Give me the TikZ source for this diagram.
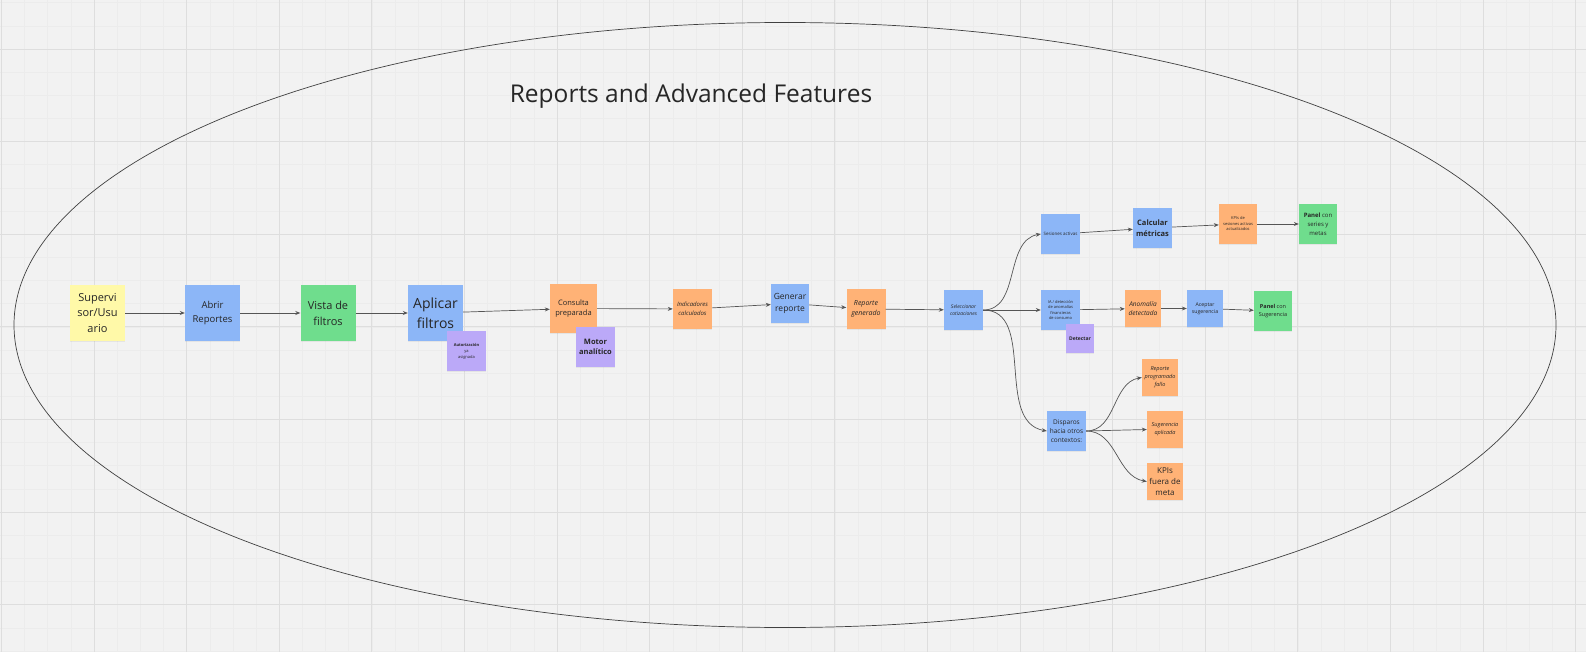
\documentclass[tikz,border=0pt]{standalone}
\usepackage{fontspec}
\setmainfont{Open Sans}
\usetikzlibrary{arrows.meta,positioning,shadows}

\definecolor{paper}{HTML}{F2F2F2}
\definecolor{gridmin}{HTML}{ECECEC}
\definecolor{gridmaj}{HTML}{DEDEDE}
\definecolor{noteyellow}{HTML}{FFF9A8}
\definecolor{noteblue}{HTML}{8CB6F7}
\definecolor{notegreen}{HTML}{6FDD8D}
\definecolor{noteorange}{HTML}{FFB276}
\definecolor{notepurple}{HTML}{BBA9F8}
\definecolor{inkline}{HTML}{555555}

\newcommand{\nfont}[2]{\fontsize{#1}{#2}\selectfont}

\begin{document}
\begin{tikzpicture}[
        x=1pt, y=-1pt,
        sticky/.style={
            rectangle, inner sep=1pt, align=center, text=black!85,
            drop shadow={shadow xshift=0pt, shadow yshift=-1.3pt, opacity=0.12}
        },
        big/.style={sticky, minimum width=55pt, minimum height=56pt},
        mid/.style={sticky, minimum width=39pt, minimum height=40pt},
        small/.style={sticky, minimum width=36pt, minimum height=37pt},
        yel/.style={fill=noteyellow},
        blu/.style={fill=noteblue},
        grn/.style={fill=notegreen},
        org/.style={fill=noteorange},
        pur/.style={fill=notepurple},
        arr/.style={-{Stealth[length=5pt,width=4pt]}, line width=0.7pt, draw=inkline}
    ]
    % Board
    \useasboundingbox (0,0) rectangle (1586,652);
    \fill[paper] (0,0) rectangle (1586,652);
    \foreach \i in {0,...,68}
        \draw[gridmin, line width=0.5pt] ({1.4+23.15*\i},0) -- ++(0,652);
    \foreach \j in {0,...,28}
        \draw[gridmin, line width=0.5pt] (0,{2.7+23.15*\j}) -- ++(1586,0);
    \foreach \i in {0,...,17}
        \draw[gridmaj, line width=0.8pt] ({1.4+92.6*\i},0) -- ++(0,652);
    \foreach \j in {0,...,6}
        \draw[gridmaj, line width=0.8pt] (0,{49+92.6*\j}) -- ++(1586,0);

    % Frame and title
    \draw[black!75, line width=0.7pt] (785,325) ellipse [x radius=771, y radius=302.5];
    \node[font=\nfont{24.5}{30}, text=black!85] (title) at (691,96) {Reports and Advanced Features};

    % Main row
    \node[big, yel, font=\nfont{11}{15.5}] (user) at (97.5,313) {Supervi\\sor/Usu\\ario};
    \node[big, blu, font=\nfont{9.5}{14.3}] (abrir) at (212.5,313) {Abrir\\Reportes};
    \node[big, grn, font=\nfont{11}{16}] (vista) at (328,313) {Vista de\\filtros};
    \node[big, blu, font=\nfont{14}{19.5}] (aplicar) at (435.5,313) {Aplicar\\filtros};
    \node[sticky, org, minimum width=47pt, minimum height=49pt, font=\nfont{7.5}{10.3}] (consulta) at (573.5,308.5) {Consulta\\preparada};
    \node[mid, org, font=\nfont{6}{8.7}\itshape] (indic) at (692.5,309) {Indicadores\\calculados};
    \node[sticky, blu, minimum width=38pt, minimum height=39pt, font=\nfont{8.5}{11.7}] (generar) at (790,303.5) {Generar\\reporte};
    \node[mid, org, font=\nfont{7}{10}\itshape] (repgen) at (866,309) {Reporte\\generado};
    \node[mid, blu, font=\nfont{5}{7}\itshape] (selec) at (963.5,310) {Seleccionar\\cotizaciones};

    % Upper branch
    \node[mid, blu, font=\nfont{4.5}{6}] (sesiones) at (1060.5,234) {Sesiones activas};
    \node[mid, blu, font=\nfont{7.5}{10.7}\bfseries] (calc) at (1152.5,228) {Calcular\\métricas};
    \node[sticky, org, minimum width=38pt, minimum height=40pt, font=\nfont{4}{5.5}] (kpisact) at (1238,224) {KPIs de\\sesiones activas\\actualizados};
    \node[sticky, grn, minimum width=38pt, minimum height=40pt, font=\nfont{6}{9}] (panelser) at (1318,224) {\textbf{Panel} con\\series y\\metas};

    % Middle branch
    \node[mid, blu, font=\nfont{4}{5.3}] (iadet) at (1060.5,310) {IA / detección\\de anomalías\\financieras\\de consumo};
    \node[small, org, font=\nfont{6.5}{9.3}\itshape] (anom) at (1143,308.5) {Anomalía\\detectada};
    \node[small, blu, font=\nfont{5.2}{7.3}] (aceptar) at (1205,308.5) {Aceptar\\sugerencia};
    \node[sticky, grn, minimum width=38pt, minimum height=40pt, font=\nfont{5.5}{8}] (panelsug) at (1273,311) {\textbf{Panel} con\\Sugerencia};

    % Lower branch
    \node[mid, blu, font=\nfont{6.5}{9.3}] (disparos) at (1066.5,431) {Disparos\\hacia otros\\contextos:};
    \node[small, org, font=\nfont{5.5}{8}\itshape] (repprog) at (1160,377.5) {Reporte\\programado\\fallo};
    \node[small, org, font=\nfont{5.5}{8}\itshape] (sugapl) at (1165,429.5) {Sugerencia\\aplicada};
    \node[small, org, font=\nfont{8}{10.7}] (kpisfuera) at (1165,481.5) {KPIs\\fuera de\\meta};

    % Side notes
    \node[mid, pur, font=\nfont{4}{6}] (autoriz) at (466.5,351) {\textbf{Autorización}\\ya\\asignada};
    \node[mid, pur, font=\nfont{7.5}{10}\bfseries] (motor) at (595.5,347) {Motor\\analítico};
    \node[sticky, pur, minimum width=28pt, minimum height=29pt, font=\nfont{5}{7}\bfseries] (detectar) at (1080,338.5) {Detectar};

    % Arrows: main row
    \draw[arr] (user) -- (abrir);
    \draw[arr] (abrir) -- (vista);
    \draw[arr] (vista) -- (aplicar);
    \draw[arr] (aplicar) -- (consulta);
    \draw[arr] (consulta) -- (indic);
    \draw[arr] (indic) -- (generar);
    \draw[arr] (generar) -- (repgen);
    \draw[arr] (repgen) -- (selec);

    % Arrows: branches
    \draw[arr] (selec.east) to[out=0, in=190] (sesiones.west);
    \draw[arr] (selec) -- (iadet);
    \draw[arr] (selec.east) to[out=0, in=170] (disparos.west);
    \draw[arr] (sesiones) -- (calc);
    \draw[arr] (calc) -- (kpisact);
    \draw[arr] (kpisact) -- (panelser);
    \draw[arr] (iadet) -- (anom);
    \draw[arr] (anom) -- (aceptar);
    \draw[arr] (aceptar) -- (panelsug);
    \draw[arr] (disparos.east) to[out=0, in=190] (repprog.west);
    \draw[arr] (disparos.east) -- (sugapl.west);
    \draw[arr] (disparos.east) to[out=0, in=170] (kpisfuera.west);
\end{tikzpicture}
\end{document}
